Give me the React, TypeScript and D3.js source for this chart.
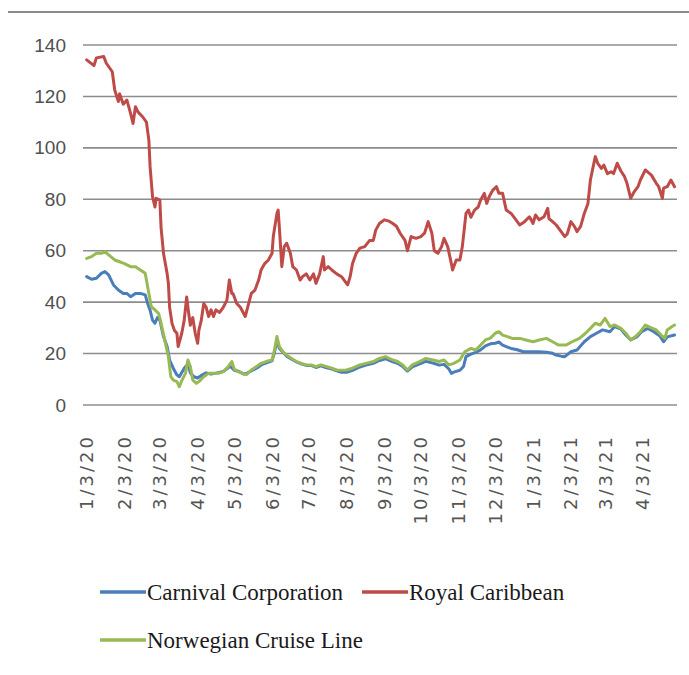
import React from "react";
import * as d3 from "d3";

const yTicks = [0, 20, 40, 60, 80, 100, 120, 140];
const xTickLabels = ["1/3/20","2/3/20","3/3/20","4/3/20","5/3/20","6/3/20","7/3/20","8/3/20","9/3/20","10/3/20","11/3/20","12/3/20","1/3/21","2/3/21","3/3/21","4/3/21"];

const carnival: [string, number][] = [
["2020-01-03",49.9],["2020-01-07",48.9],["2020-01-11",49.3],["2020-01-15",51.2],["2020-01-18",51.9],["2020-01-21",50.6],["2020-01-25",46.7],["2020-01-29",44.7],["2020-02-02",43.4],["2020-02-05",43.4],["2020-02-08",42.1],["2020-02-12",43.4],["2020-02-16",43.4],["2020-02-20",42.8],["2020-02-22",39.5],["2020-02-24",36.9],["2020-02-26",33],["2020-02-28",31.8],["2020-03-01",34],["2020-03-03",33],["2020-03-06",26.6],["2020-03-09",22.7],["2020-03-11",17.5],["2020-03-14",14.3],["2020-03-17",11.7],["2020-03-19",11],["2020-03-23",14.3],["2020-03-26",16],["2020-03-28",12.5],["2020-03-31",11],["2020-04-03",10.5],["2020-04-06",11.5],["2020-04-10",12.5],["2020-04-14",12],["2020-04-19",12.5],["2020-04-24",13],["2020-04-28",14.5],["2020-04-30",15],["2020-05-03",13.5],["2020-05-07",13],["2020-05-11",12],["2020-05-14",12.5],["2020-05-18",13.5],["2020-05-22",14.5],["2020-05-26",15.8],["2020-05-30",16.5],["2020-06-03",17.2],["2020-06-05",20.5],["2020-06-07",25],["2020-06-09",22],["2020-06-12",20.5],["2020-06-15",19],["2020-06-19",17.8],["2020-06-23",16.8],["2020-06-27",16],["2020-07-01",15.4],["2020-07-05",15.4],["2020-07-09",14.6],["2020-07-13",15.2],["2020-07-17",14.6],["2020-07-22",14],["2020-07-26",13.3],["2020-07-30",12.7],["2020-08-03",12.7],["2020-08-08",13.5],["2020-08-14",14.8],["2020-08-19",15.5],["2020-08-25",16.2],["2020-08-30",17.3],["2020-09-04",18],["2020-09-10",16.8],["2020-09-14",16.2],["2020-09-18",15],["2020-09-22",13.2],["2020-09-26",14.8],["2020-10-02",16],["2020-10-07",17],["2020-10-13",16.3],["2020-10-18",15.5],["2020-10-22",15.8],["2020-10-26",14],["2020-10-28",12.3],["2020-10-30",12.8],["2020-11-04",13.5],["2020-11-07",15],["2020-11-09",18.8],["2020-11-13",19.8],["2020-11-17",20.5],["2020-11-21",21.4],["2020-11-25",23],["2020-11-29",23.8],["2020-12-03",24],["2020-12-06",24.5],["2020-12-09",23.3],["2020-12-13",22.5],["2020-12-16",22],["2020-12-21",21.5],["2020-12-26",20.7],["2021-01-01",20.7],["2021-01-08",20.7],["2021-01-14",20.5],["2021-01-19",20.1],["2021-01-22",19.4],["2021-01-26",19],["2021-01-29",18.8],["2021-02-03",20.7],["2021-02-08",21.4],["2021-02-14",24.6],["2021-02-19",26.6],["2021-02-24",27.9],["2021-03-01",29.2],["2021-03-07",28.5],["2021-03-11",30.5],["2021-03-16",29.5],["2021-03-20",27.2],["2021-03-24",25.3],["2021-03-29",26.5],["2021-04-02",28.5],["2021-04-07",29.8],["2021-04-12",28.5],["2021-04-17",26.8],["2021-04-20",24.6],["2021-04-23",26.5],["2021-04-29",27.2]
];

const royalCaribbean: [string, number][] = [
["2020-01-03",134.2],["2020-01-09",132],["2020-01-11",135],["2020-01-17",135.5],["2020-01-19",133],["2020-01-24",129.6],["2020-01-26",122.5],["2020-01-29",118],["2020-01-30",121],["2020-02-02",117],["2020-02-05",118.6],["2020-02-08",113.4],["2020-02-10",109.5],["2020-02-12",116],["2020-02-14",114],["2020-02-18",112],["2020-02-21",110],["2020-02-23",103],["2020-02-24",92.7],["2020-02-26",81],["2020-02-28",77],["2020-02-29",80.4],["2020-03-03",79.7],["2020-03-04",69],["2020-03-06",59],["2020-03-09",51],["2020-03-10",47.3],["2020-03-11",38],["2020-03-13",31.7],["2020-03-15",29],["2020-03-17",27.9],["2020-03-18",22.7],["2020-03-21",28],["2020-03-23",33],["2020-03-25",42],["2020-03-26",38],["2020-03-28",31],["2020-03-30",34],["2020-04-01",27.9],["2020-04-03",24],["2020-04-04",29],["2020-04-06",33],["2020-04-08",39.5],["2020-04-10",38],["2020-04-12",34.4],["2020-04-14",37],["2020-04-16",34.4],["2020-04-18",37],["2020-04-21",36],["2020-04-24",38],["2020-04-27",40.8],["2020-04-29",48.6],["2020-05-01",43.4],["2020-05-02",43.4],["2020-05-05",39.5],["2020-05-08",38],["2020-05-12",34.4],["2020-05-14",38],["2020-05-17",43.4],["2020-05-20",44.7],["2020-05-23",48.6],["2020-05-25",52.5],["2020-05-28",55],["2020-05-31",56.4],["2020-06-03",59],["2020-06-04",65.5],["2020-06-07",74.5],["2020-06-08",75.8],["2020-06-09",69],["2020-06-11",53.8],["2020-06-13",61.6],["2020-06-15",62.9],["2020-06-18",59],["2020-06-20",53.8],["2020-06-23",52.5],["2020-06-26",48.6],["2020-06-28",49.9],["2020-07-01",51],["2020-07-04",48.6],["2020-07-07",51],["2020-07-09",47.3],["2020-07-12",51],["2020-07-15",57.7],["2020-07-16",52.5],["2020-07-19",53.8],["2020-07-22",52.5],["2020-07-26",51],["2020-07-30",49.9],["2020-08-03",47.3],["2020-08-04",46.7],["2020-08-06",49.9],["2020-08-07",52.5],["2020-08-08",55],["2020-08-11",59],["2020-08-14",61],["2020-08-18",61.6],["2020-08-22",64],["2020-08-25",64],["2020-08-27",68],["2020-08-30",70.6],["2020-09-03",72],["2020-09-07",71.5],["2020-09-10",70.6],["2020-09-13",69.5],["2020-09-16",66.8],["2020-09-20",64],["2020-09-22",60],["2020-09-25",65.5],["2020-09-29",64.8],["2020-10-03",65.5],["2020-10-06",66.8],["2020-10-09",71.3],["2020-10-12",66.8],["2020-10-14",60],["2020-10-17",59],["2020-10-20",61.6],["2020-10-22",64.8],["2020-10-25",61.6],["2020-10-28",55],["2020-10-29",52.5],["2020-11-01",56.4],["2020-11-04",56.4],["2020-11-06",61.6],["2020-11-09",74.5],["2020-11-11",75.8],["2020-11-13",73],["2020-11-16",75.8],["2020-11-19",77],["2020-11-21",79.7],["2020-11-24",82.3],["2020-11-26",78.4],["2020-11-28",81],["2020-12-01",83.6],["2020-12-04",84.9],["2020-12-06",82.3],["2020-12-09",82.3],["2020-12-12",75.8],["2020-12-16",74.5],["2020-12-20",72],["2020-12-23",70],["2020-12-27",71.3],["2020-12-31",73.2],["2021-01-03",70.6],["2021-01-05",73.9],["2021-01-08",72],["2021-01-12",73.2],["2021-01-15",76.5],["2021-01-16",72.5],["2021-01-19",71.3],["2021-01-22",70],["2021-01-26",67.4],["2021-01-29",65.5],["2021-01-31",66.5],["2021-02-03",71.3],["2021-02-06",69.4],["2021-02-08",67.4],["2021-02-11",69.5],["2021-02-14",74.5],["2021-02-17",78.4],["2021-02-19",87.5],["2021-02-23",96.6],["2021-02-25",94],["2021-02-28",92],["2021-03-02",93.3],["2021-03-05",90],["2021-03-08",90.7],["2021-03-10",90],["2021-03-13",94],["2021-03-16",91],["2021-03-19",88.8],["2021-03-21",86.2],["2021-03-24",80.4],["2021-03-27",83],["2021-03-30",84.9],["2021-04-01",87.5],["2021-04-05",91.4],["2021-04-10",89.4],["2021-04-14",86.2],["2021-04-16",84.9],["2021-04-19",80.4],["2021-04-20",84.3],["2021-04-23",84.9],["2021-04-26",87.5],["2021-04-29",84.9]
];

const norwegian: [string, number][] = [
["2020-01-03",57],["2020-01-07",57.7],["2020-01-11",59],["2020-01-15",59],["2020-01-18",59.6],["2020-01-22",58],["2020-01-26",56.4],["2020-01-30",55.7],["2020-02-03",55],["2020-02-08",53.8],["2020-02-12",53.8],["2020-02-16",52.5],["2020-02-20",51.2],["2020-02-23",43.4],["2020-02-25",38.2],["2020-02-28",37],["2020-03-02",35.6],["2020-03-04",31.8],["2020-03-07",25.3],["2020-03-10",18.8],["2020-03-12",11],["2020-03-14",9.7],["2020-03-17",9.1],["2020-03-19",7.1],["2020-03-21",9.5],["2020-03-24",12.3],["2020-03-26",17.5],["2020-03-28",15],["2020-03-30",9.7],["2020-04-02",8.4],["2020-04-05",9.5],["2020-04-08",11],["2020-04-12",12.3],["2020-04-16",12.3],["2020-04-20",12.3],["2020-04-24",13],["2020-04-28",14.9],["2020-05-01",16.9],["2020-05-03",14],["2020-05-06",13],["2020-05-10",12.3],["2020-05-13",11.8],["2020-05-17",13.6],["2020-05-21",14.9],["2020-05-25",16.2],["2020-05-29",16.9],["2020-06-03",17.5],["2020-06-05",21.4],["2020-06-07",26.6],["2020-06-09",22.7],["2020-06-12",20.7],["2020-06-15",19.4],["2020-06-19",18.1],["2020-06-23",16.9],["2020-06-27",16.2],["2020-07-01",15.6],["2020-07-05",15.6],["2020-07-09",14.9],["2020-07-13",15.6],["2020-07-18",14.9],["2020-07-22",14.3],["2020-07-26",13.6],["2020-07-30",13.5],["2020-08-03",13.6],["2020-08-08",14.3],["2020-08-14",15.6],["2020-08-19",16.2],["2020-08-25",16.9],["2020-08-30",18.1],["2020-09-04",18.8],["2020-09-10",17.5],["2020-09-14",16.9],["2020-09-18",15.6],["2020-09-22",13.6],["2020-09-26",15.6],["2020-10-02",16.9],["2020-10-07",18.1],["2020-10-13",17.5],["2020-10-18",16.9],["2020-10-22",17.5],["2020-10-26",15.6],["2020-10-30",16.2],["2020-11-04",17.5],["2020-11-08",20.7],["2020-11-13",22],["2020-11-17",21.4],["2020-11-21",23.3],["2020-11-25",25.3],["2020-11-29",26],["2020-12-03",27.9],["2020-12-06",28.5],["2020-12-09",27.2],["2020-12-13",26.6],["2020-12-17",25.9],["2020-12-23",25.9],["2020-12-28",25.3],["2021-01-03",24.6],["2021-01-08",25.3],["2021-01-14",25.9],["2021-01-19",24.6],["2021-01-24",23.3],["2021-01-30",23.3],["2021-02-04",24.6],["2021-02-10",25.9],["2021-02-15",27.9],["2021-02-19",29.8],["2021-02-23",31.8],["2021-02-27",31.1],["2021-03-03",33.7],["2021-03-07",30.5],["2021-03-11",31.1],["2021-03-16",29.8],["2021-03-20",27.9],["2021-03-24",25.3],["2021-03-28",26.6],["2021-04-01",28.5],["2021-04-05",31.1],["2021-04-10",30],["2021-04-14",29.2],["2021-04-18",27.2],["2021-04-21",25.9],["2021-04-23",29.2],["2021-04-27",30.5],["2021-04-29",31.1]
];

const seriesNames = ["Carnival Corporation", "Royal Caribbean", "Norwegian Cruise Line"];
const seriesColors = ["#4A7EBB", "#BE4B48", "#98B954"];

const parseDate = d3.timeParse("%Y-%m-%d");
const parseTick = d3.timeParse("%m/%d/%y");

export default function App() {
  const W = 689, H = 675;
  const left = 83, right = 677, top = 45, bottom = 405;
  const x = d3.scaleTime()
    .domain([new Date(2019, 11, 31), new Date(2021, 4, 1)])
    .range([left, right]);
  const y = d3.scaleLinear().domain([0, 140]).range([bottom, top]);
  const line = d3.line<[string, number]>()
    .x((d) => x(parseDate(d[0]) as Date))
    .y((d) => y(d[1]));
  const all = [carnival, royalCaribbean, norwegian];

  return (
    <svg width={W} height={H} style={{ position: "absolute", left: 0, top: 0, background: "#fff" }}>
      <rect x={0} y={0} width={W} height={H} fill="#fff" />
      <line x1={8} x2={W} y1={12} y2={12} stroke="#8a8a8a" strokeWidth={2} />
      {yTicks.map((t) => (
        <g key={t}>
          <line x1={left} x2={right} y1={y(t)} y2={y(t)} stroke="#8c8c8c" strokeWidth={1.6} />
          <text x={66} y={y(t)} textAnchor="end" dominantBaseline="central"
            fontFamily="Liberation Sans, Arial, sans-serif" fontSize={19} fill="#505050">{t}</text>
        </g>
      ))}
      {xTickLabels.map((lab) => {
        const xx = x(parseTick(lab) as Date);
        return (
          <text key={lab} transform={`translate(${xx},434) rotate(-90)`} textAnchor="end"
            dominantBaseline="central" fontFamily="DejaVu Sans, sans-serif" fontSize={18}
            letterSpacing={3} fill="#555">{lab}</text>
        );
      })}
      {all.map((s, i) => (
        <path key={i} d={line(s) || ""} fill="none" stroke={seriesColors[i]} strokeWidth={3}
          strokeLinejoin="round" strokeLinecap="round" />
      ))}
      {[
        { i: 0, x0: 100, yy: 592 },
        { i: 1, x0: 362, yy: 592 },
        { i: 2, x0: 100, yy: 640 },
      ].map(({ i, x0, yy }) => (
        <g key={i}>
          <line x1={x0} x2={x0 + 46} y1={yy} y2={yy} stroke={seriesColors[i]} strokeWidth={3.5} />
          <text x={x0 + 47} y={yy + 8} fontFamily="Liberation Serif, Times New Roman, serif"
            fontSize={23} fill="#1a1a1a">{seriesNames[i]}</text>
        </g>
      ))}
    </svg>
  );
}
